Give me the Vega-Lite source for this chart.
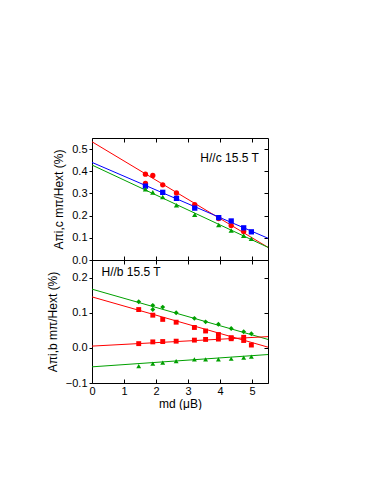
{
  "$schema": "https://vega.github.io/schema/vega-lite/v6.json",
  "padding": {"left": 45, "top": 137, "right": 0, "bottom": 0},
  "background": "white",
  "spacing": 0,
  "bounds": "flush",
  "config": {
    "view": {"stroke": "black", "strokeWidth": 1},
    "font": "Liberation Sans",
    "axis": {"grid": false, "domainColor": "black", "tickColor": "black", "labelColor": "black", "titleColor": "black", "labelFont": "Liberation Sans", "titleFont": "Liberation Sans", "labelFontSize": 11, "titleFontSize": 12, "titleFontWeight": "normal", "tickSize": 3, "labelPadding": 2, "labelOverlap": false, "labelFlush": false}
  },
  "datasets": {
    "pts": [
      {"panel": "c", "series": "c-red", "x": 1.67, "y": 0.387},
      {"panel": "c", "series": "c-red", "x": 1.67, "y": 0.345},
      {"panel": "c", "series": "c-red", "x": 1.90, "y": 0.381},
      {"panel": "c", "series": "c-red", "x": 2.21, "y": 0.339},
      {"panel": "c", "series": "c-red", "x": 2.64, "y": 0.302},
      {"panel": "c", "series": "c-red", "x": 3.21, "y": 0.250},
      {"panel": "c", "series": "c-red", "x": 3.96, "y": 0.187},
      {"panel": "c", "series": "c-red", "x": 4.35, "y": 0.155},
      {"panel": "c", "series": "c-red", "x": 4.74, "y": 0.128},
      {"panel": "c", "series": "c-blue", "x": 1.67, "y": 0.333},
      {"panel": "c", "series": "c-blue", "x": 2.21, "y": 0.305},
      {"panel": "c", "series": "c-blue", "x": 2.64, "y": 0.278},
      {"panel": "c", "series": "c-blue", "x": 3.21, "y": 0.234},
      {"panel": "c", "series": "c-blue", "x": 3.96, "y": 0.191},
      {"panel": "c", "series": "c-blue", "x": 4.35, "y": 0.176},
      {"panel": "c", "series": "c-blue", "x": 4.74, "y": 0.145},
      {"panel": "c", "series": "c-blue", "x": 4.98, "y": 0.127},
      {"panel": "c", "series": "c-green", "x": 1.67, "y": 0.319},
      {"panel": "c", "series": "c-green", "x": 1.90, "y": 0.305},
      {"panel": "c", "series": "c-green", "x": 2.21, "y": 0.284},
      {"panel": "c", "series": "c-green", "x": 2.64, "y": 0.247},
      {"panel": "c", "series": "c-green", "x": 3.21, "y": 0.204},
      {"panel": "c", "series": "c-green", "x": 3.96, "y": 0.158},
      {"panel": "c", "series": "c-green", "x": 4.35, "y": 0.133},
      {"panel": "c", "series": "c-green", "x": 4.74, "y": 0.110},
      {"panel": "c", "series": "c-green", "x": 4.98, "y": 0.096},
      {"panel": "b", "series": "b-green-up", "x": 1.46, "y": 0.131},
      {"panel": "b", "series": "b-green-up", "x": 1.90, "y": 0.121},
      {"panel": "b", "series": "b-green-up", "x": 1.90, "y": 0.109},
      {"panel": "b", "series": "b-green-up", "x": 2.21, "y": 0.116},
      {"panel": "b", "series": "b-green-up", "x": 2.63, "y": 0.100},
      {"panel": "b", "series": "b-green-up", "x": 3.20, "y": 0.084},
      {"panel": "b", "series": "b-green-up", "x": 3.55, "y": 0.074},
      {"panel": "b", "series": "b-green-up", "x": 3.95, "y": 0.067},
      {"panel": "b", "series": "b-green-up", "x": 4.35, "y": 0.055},
      {"panel": "b", "series": "b-green-up", "x": 4.74, "y": 0.046},
      {"panel": "b", "series": "b-green-up", "x": 4.98, "y": 0.040},
      {"panel": "b", "series": "b-red-up", "x": 1.46, "y": 0.109},
      {"panel": "b", "series": "b-red-up", "x": 1.90, "y": 0.093},
      {"panel": "b", "series": "b-red-up", "x": 2.21, "y": 0.081},
      {"panel": "b", "series": "b-red-up", "x": 2.63, "y": 0.073},
      {"panel": "b", "series": "b-red-up", "x": 3.20, "y": 0.058},
      {"panel": "b", "series": "b-red-up", "x": 3.55, "y": 0.048},
      {"panel": "b", "series": "b-red-up", "x": 3.95, "y": 0.038},
      {"panel": "b", "series": "b-red-up", "x": 4.35, "y": 0.029},
      {"panel": "b", "series": "b-red-up", "x": 4.74, "y": 0.021},
      {"panel": "b", "series": "b-red-up", "x": 4.98, "y": 0.008},
      {"panel": "b", "series": "b-red-low", "x": 1.46, "y": 0.012},
      {"panel": "b", "series": "b-red-low", "x": 1.90, "y": 0.017},
      {"panel": "b", "series": "b-red-low", "x": 2.21, "y": 0.018},
      {"panel": "b", "series": "b-red-low", "x": 2.63, "y": 0.019},
      {"panel": "b", "series": "b-red-low", "x": 3.20, "y": 0.022},
      {"panel": "b", "series": "b-red-low", "x": 3.55, "y": 0.024},
      {"panel": "b", "series": "b-red-low", "x": 3.95, "y": 0.025},
      {"panel": "b", "series": "b-red-low", "x": 4.35, "y": 0.026},
      {"panel": "b", "series": "b-red-low", "x": 4.74, "y": 0.030},
      {"panel": "b", "series": "b-green-low", "x": 1.46, "y": -0.052},
      {"panel": "b", "series": "b-green-low", "x": 1.90, "y": -0.045},
      {"panel": "b", "series": "b-green-low", "x": 2.21, "y": -0.042},
      {"panel": "b", "series": "b-green-low", "x": 2.63, "y": -0.038},
      {"panel": "b", "series": "b-green-low", "x": 3.20, "y": -0.033},
      {"panel": "b", "series": "b-green-low", "x": 3.55, "y": -0.033},
      {"panel": "b", "series": "b-green-low", "x": 3.95, "y": -0.033},
      {"panel": "b", "series": "b-green-low", "x": 4.35, "y": -0.031},
      {"panel": "b", "series": "b-green-low", "x": 4.74, "y": -0.028},
      {"panel": "b", "series": "b-green-low", "x": 4.98, "y": -0.025}
    ],
    "fits": [
      {"panel": "c", "series": "c-red", "x": 0, "y": 0.533},
      {"panel": "c", "series": "c-red", "x": 5.5, "y": 0.057},
      {"panel": "c", "series": "c-blue", "x": 0, "y": 0.440},
      {"panel": "c", "series": "c-blue", "x": 5.5, "y": 0.098},
      {"panel": "c", "series": "c-green", "x": 0, "y": 0.428},
      {"panel": "c", "series": "c-green", "x": 5.5, "y": 0.057},
      {"panel": "b", "series": "b-green-up", "x": 0, "y": 0.167},
      {"panel": "b", "series": "b-green-up", "x": 5.5, "y": 0.024},
      {"panel": "b", "series": "b-red-up", "x": 0, "y": 0.145},
      {"panel": "b", "series": "b-red-up", "x": 5.5, "y": 0.002},
      {"panel": "b", "series": "b-red-low", "x": 0, "y": 0.005},
      {"panel": "b", "series": "b-red-low", "x": 5.5, "y": 0.032},
      {"panel": "b", "series": "b-green-low", "x": 0, "y": -0.054},
      {"panel": "b", "series": "b-green-low", "x": 5.5, "y": -0.019}
    ]
  },
  "vconcat": [
    {
      "width": 176,
      "height": 122,
      "resolve": {"axis": {"x": "independent", "y": "independent"}},
      "layer": [
        {
          "data": {"name": "fits"},
          "transform": [{"filter": "datum.panel === 'c'"}],
          "mark": {"type": "line", "strokeWidth": 1},
          "encoding": {
            "x": {"field": "x", "type": "quantitative", "scale": {"domain": [0, 5.5], "nice": false},
                  "axis": {"values": [0, 1, 2, 3, 4, 5], "labels": false, "title": null, "tickSize": -4, "domain": false}},
            "y": {"field": "y", "type": "quantitative", "scale": {"domain": [0, 0.55], "nice": false},
                  "axis": {"values": [0, 0.1, 0.2, 0.3, 0.4, 0.5], "format": ".1f", "title": "Aπi,c mπ/Hext (%)", "titlePadding": 6, "domain": false}},
            "color": {"field": "series", "type": "nominal", "legend": null,
                      "scale": {"domain": ["c-red", "c-blue", "c-green", "b-green-up", "b-red-up", "b-red-low", "b-green-low"],
                                "range": ["#ff0000", "#0000ff", "#00a000", "#00a000", "#ff0000", "#ff0000", "#00a000"]}}
          }
        },
        {
          "data": {"name": "fits"},
          "transform": [{"filter": "datum.panel === 'c'"}],
          "mark": {"type": "line", "opacity": 0},
          "encoding": {
            "x": {"field": "x", "type": "quantitative",
                  "axis": {"orient": "top", "values": [0, 1, 2, 3, 4, 5], "labels": false, "title": null, "tickSize": -4, "domain": false}},
            "y": {"field": "y", "type": "quantitative",
                  "axis": {"orient": "right", "values": [0, 0.1, 0.2, 0.3, 0.4, 0.5], "labels": false, "title": null, "tickSize": -4, "domain": false}},
            "detail": {"field": "series"}
          }
        },
        {
          "data": {"name": "pts"},
          "transform": [{"filter": "datum.panel === 'c'"}],
          "mark": {"type": "point", "filled": true, "size": 28, "opacity": 1},
          "encoding": {
            "x": {"field": "x", "type": "quantitative", "axis": null},
            "y": {"field": "y", "type": "quantitative", "axis": null},
            "color": {"field": "series", "type": "nominal", "legend": null},
            "shape": {"field": "series", "type": "nominal", "legend": null,
                      "scale": {"domain": ["c-red", "c-blue", "c-green", "b-green-up", "b-red-up", "b-red-low", "b-green-low"],
                                "range": ["circle", "square", "triangle-up", "diamond", "square", "square", "triangle-up"]}}
          }
        },
        {
          "data": {"values": [{"label": "H//c 15.5 T"}]},
          "mark": {"type": "text", "fontSize": 12, "font": "Liberation Sans", "align": "center", "baseline": "middle", "color": "black"},
          "encoding": {
            "x": {"datum": 4.3, "type": "quantitative", "axis": null},
            "y": {"datum": 0.462, "type": "quantitative", "axis": null},
            "text": {"field": "label"}
          }
        }
      ]
    },
    {
      "width": 176,
      "height": 123,
      "resolve": {"axis": {"x": "independent", "y": "independent"}},
      "layer": [
        {
          "data": {"name": "fits"},
          "transform": [{"filter": "datum.panel === 'b'"}],
          "mark": {"type": "line", "strokeWidth": 1},
          "encoding": {
            "x": {"field": "x", "type": "quantitative", "scale": {"domain": [0, 5.5], "nice": false},
                  "axis": {"values": [0, 1, 2, 3, 4, 5], "format": "d", "title": "md (μB)", "tickSize": -4, "labelPadding": 6, "titlePadding": 2, "domain": false}},
            "y": {"field": "y", "type": "quantitative", "scale": {"domain": [-0.1, 0.25], "nice": false},
                  "axis": {"values": [-0.1, 0, 0.1, 0.2], "format": ".1f", "title": "Aπi,b mπ/Hext (%)", "titlePadding": 6, "domain": false}},
            "color": {"field": "series", "type": "nominal", "legend": null,
                      "scale": {"domain": ["c-red", "c-blue", "c-green", "b-green-up", "b-red-up", "b-red-low", "b-green-low"],
                                "range": ["#ff0000", "#0000ff", "#00a000", "#00a000", "#ff0000", "#ff0000", "#00a000"]}}
          }
        },
        {
          "data": {"name": "fits"},
          "transform": [{"filter": "datum.panel === 'b'"}],
          "mark": {"type": "line", "opacity": 0},
          "encoding": {
            "x": {"field": "x", "type": "quantitative",
                  "axis": {"orient": "top", "values": [0, 1, 2, 3, 4, 5], "labels": false, "title": null, "tickSize": -4, "domain": false}},
            "y": {"field": "y", "type": "quantitative",
                  "axis": {"orient": "right", "values": [-0.1, 0, 0.1, 0.2], "labels": false, "title": null, "tickSize": -4, "domain": false}},
            "detail": {"field": "series"}
          }
        },
        {
          "data": {"name": "pts"},
          "transform": [{"filter": "datum.panel === 'b'"}],
          "mark": {"type": "point", "filled": true, "size": 24, "opacity": 1},
          "encoding": {
            "x": {"field": "x", "type": "quantitative", "axis": null},
            "y": {"field": "y", "type": "quantitative", "axis": null},
            "color": {"field": "series", "type": "nominal", "legend": null},
            "shape": {"field": "series", "type": "nominal", "legend": null,
                      "scale": {"domain": ["c-red", "c-blue", "c-green", "b-green-up", "b-red-up", "b-red-low", "b-green-low"],
                                "range": ["circle", "square", "triangle-up", "diamond", "square", "square", "triangle-up"]}}
          }
        },
        {
          "data": {"values": [{"label": "H//b 15.5 T"}]},
          "mark": {"type": "text", "fontSize": 12, "font": "Liberation Sans", "align": "center", "baseline": "middle", "color": "black"},
          "encoding": {
            "x": {"datum": 1.22, "type": "quantitative", "axis": null},
            "y": {"datum": 0.216, "type": "quantitative", "axis": null},
            "text": {"field": "label"}
          }
        }
      ]
    }
  ]
}
